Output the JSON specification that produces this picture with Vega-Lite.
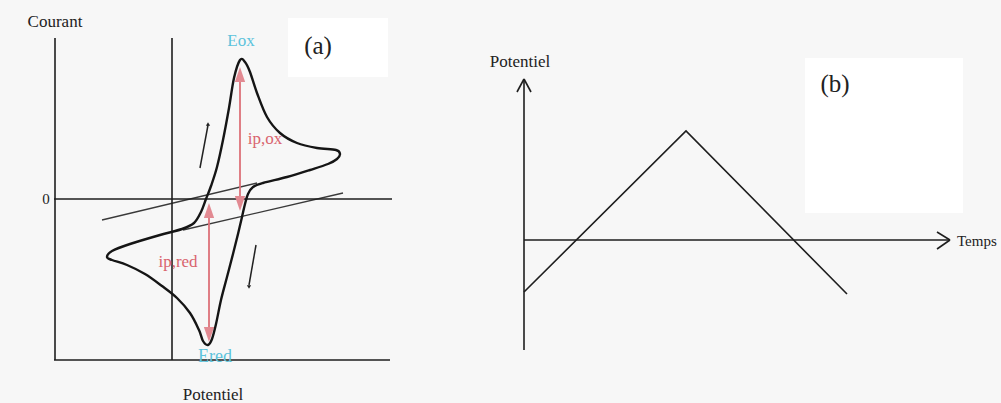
{
  "$schema": "https://vega.github.io/schema/vega-lite/v6.json",
  "width": 1001,
  "height": 403,
  "padding": 0,
  "autosize": {"type": "fit", "contains": "padding"},
  "background": "#f7f7f7",
  "config": {"view": {"stroke": null}},
  "datasets": {
    "boxes": [
      {"x": 288, "y": 18, "x2": 388, "y2": 77},
      {"x": 805, "y": 58, "x2": 963, "y2": 213}
    ],
    "axes": [
      {"x": 55, "y": 38, "x2": 55, "y2": 360},
      {"x": 54, "y": 360, "x2": 390, "y2": 360},
      {"x": 172, "y": 38, "x2": 172, "y2": 360},
      {"x": 54, "y": 199, "x2": 392, "y2": 199},
      {"x": 524, "y": 79, "x2": 524, "y2": 350},
      {"x": 524, "y": 240, "x2": 950, "y2": 240},
      {"x": 517, "y": 92, "x2": 524, "y2": 79},
      {"x": 531, "y": 92, "x2": 524, "y2": 79},
      {"x": 937, "y": 232, "x2": 950, "y2": 240},
      {"x": 937, "y": 249, "x2": 950, "y2": 240}
    ],
    "baselines": [
      {"x": 102, "y": 220, "x2": 257, "y2": 183},
      {"x": 183, "y": 230, "x2": 343, "y2": 193}
    ],
    "cv": [
      {"i": 0, "x": 107, "y": 257},
      {"i": 1, "x": 112, "y": 251},
      {"i": 2, "x": 130, "y": 244},
      {"i": 3, "x": 160, "y": 235},
      {"i": 4, "x": 182, "y": 229},
      {"i": 5, "x": 194, "y": 223},
      {"i": 6, "x": 201, "y": 212},
      {"i": 7, "x": 206, "y": 199},
      {"i": 8, "x": 211, "y": 186},
      {"i": 9, "x": 217, "y": 167},
      {"i": 10, "x": 223, "y": 140},
      {"i": 11, "x": 229, "y": 108},
      {"i": 12, "x": 234, "y": 78},
      {"i": 13, "x": 240, "y": 60},
      {"i": 14, "x": 245, "y": 62},
      {"i": 15, "x": 250, "y": 72},
      {"i": 16, "x": 257, "y": 93},
      {"i": 17, "x": 267, "y": 117},
      {"i": 18, "x": 280, "y": 133},
      {"i": 19, "x": 297, "y": 143},
      {"i": 20, "x": 317, "y": 148},
      {"i": 21, "x": 336, "y": 150},
      {"i": 22, "x": 340, "y": 154},
      {"i": 23, "x": 337, "y": 159},
      {"i": 24, "x": 328, "y": 164},
      {"i": 25, "x": 310, "y": 170},
      {"i": 26, "x": 287, "y": 177},
      {"i": 27, "x": 263, "y": 183},
      {"i": 28, "x": 253, "y": 187},
      {"i": 29, "x": 248, "y": 194},
      {"i": 30, "x": 245, "y": 204},
      {"i": 31, "x": 242, "y": 217},
      {"i": 32, "x": 238, "y": 234},
      {"i": 33, "x": 233, "y": 254},
      {"i": 34, "x": 227, "y": 277},
      {"i": 35, "x": 221, "y": 300},
      {"i": 36, "x": 216, "y": 324},
      {"i": 37, "x": 212, "y": 339},
      {"i": 38, "x": 208, "y": 345},
      {"i": 39, "x": 203, "y": 341},
      {"i": 40, "x": 199, "y": 330},
      {"i": 41, "x": 190, "y": 313},
      {"i": 42, "x": 177, "y": 298},
      {"i": 43, "x": 162, "y": 286},
      {"i": 44, "x": 145, "y": 274},
      {"i": 45, "x": 127, "y": 265},
      {"i": 46, "x": 112, "y": 260}
    ],
    "tri": [
      {"i": 0, "x": 524, "y": 292},
      {"i": 1, "x": 686, "y": 131},
      {"i": 2, "x": 847, "y": 294}
    ],
    "red": [
      {"x": 240, "y": 75, "x2": 240, "y2": 203},
      {"x": 209, "y": 212, "x2": 209, "y2": 333}
    ],
    "redUp": [
      {"x": 240, "y": 67},
      {"x": 209, "y": 203}
    ],
    "redDown": [
      {"x": 240, "y": 211},
      {"x": 209, "y": 342}
    ],
    "small": [
      {"x": 200, "y": 168, "x2": 208, "y2": 125},
      {"x": 256, "y": 245, "x2": 249, "y2": 285}
    ],
    "smallUp": [{"x": 208, "y": 124}],
    "smallDown": [{"x": 249, "y": 287}],
    "labels": [
      {"x": 55, "y": 22, "t": "Courant", "s": "k", "z": 17},
      {"x": 46, "y": 199, "t": "0", "s": "k", "z": 15},
      {"x": 213, "y": 395, "t": "Potentiel", "s": "k", "z": 17},
      {"x": 318, "y": 46, "t": "(a)", "s": "k", "z": 25},
      {"x": 835, "y": 84, "t": "(b)", "s": "k", "z": 25},
      {"x": 520, "y": 62, "t": "Potentiel", "s": "k", "z": 17},
      {"x": 241, "y": 41, "t": "Eox", "s": "c", "z": 17},
      {"x": 215, "y": 357, "t": "Ered", "s": "c", "z": 18},
      {"x": 265, "y": 139, "t": "ip,ox", "s": "r", "z": 17},
      {"x": 178, "y": 262, "t": "ip,red", "s": "r", "z": 17}
    ]
  },
  "layer": [
    {
      "data": {"name": "boxes"},
      "mark": {"type": "rect", "fill": "#ffffff"},
      "encoding": {
        "x": {"field": "x", "type": "quantitative", "scale": {"domain": [0, 1001], "nice": false, "zero": false}, "axis": null},
        "x2": {"field": "x2"},
        "y": {"field": "y", "type": "quantitative", "scale": {"domain": [0, 403], "nice": false, "zero": false, "reverse": true}, "axis": null},
        "y2": {"field": "y2"}
      }
    },
    {
      "data": {"name": "baselines"},
      "mark": {"type": "rule", "color": "#3a3a3a", "strokeWidth": 1.3},
      "encoding": {
        "x": {"field": "x", "type": "quantitative", "scale": {"domain": [0, 1001], "nice": false, "zero": false}, "axis": null},
        "x2": {"field": "x2"},
        "y": {"field": "y", "type": "quantitative", "scale": {"domain": [0, 403], "nice": false, "zero": false, "reverse": true}, "axis": null},
        "y2": {"field": "y2"}
      }
    },
    {
      "data": {"name": "axes"},
      "mark": {"type": "rule", "color": "#1e1e1e", "strokeWidth": 1.6},
      "encoding": {
        "x": {"field": "x", "type": "quantitative", "scale": {"domain": [0, 1001], "nice": false, "zero": false}, "axis": null},
        "x2": {"field": "x2"},
        "y": {"field": "y", "type": "quantitative", "scale": {"domain": [0, 403], "nice": false, "zero": false, "reverse": true}, "axis": null},
        "y2": {"field": "y2"}
      }
    },
    {
      "data": {"name": "tri"},
      "mark": {"type": "line", "color": "#1e1e1e", "strokeWidth": 1.6},
      "encoding": {
        "x": {"field": "x", "type": "quantitative", "scale": {"domain": [0, 1001], "nice": false, "zero": false}, "axis": null},
        "y": {"field": "y", "type": "quantitative", "scale": {"domain": [0, 403], "nice": false, "zero": false, "reverse": true}, "axis": null},
        "order": {"field": "i"}
      }
    },
    {
      "data": {"name": "red"},
      "mark": {"type": "rule", "color": "#dc7078", "strokeWidth": 1.8},
      "encoding": {
        "x": {"field": "x", "type": "quantitative", "scale": {"domain": [0, 1001], "nice": false, "zero": false}, "axis": null},
        "x2": {"field": "x2"},
        "y": {"field": "y", "type": "quantitative", "scale": {"domain": [0, 403], "nice": false, "zero": false, "reverse": true}, "axis": null},
        "y2": {"field": "y2"}
      }
    },
    {
      "data": {"name": "redUp"},
      "mark": {"type": "point", "shape": "M0,0L-0.65,1.9L0.65,1.9Z", "filled": true, "color": "#e28a92", "opacity": 1, "size": 250},
      "encoding": {
        "x": {"field": "x", "type": "quantitative", "scale": {"domain": [0, 1001], "nice": false, "zero": false}, "axis": null},
        "y": {"field": "y", "type": "quantitative", "scale": {"domain": [0, 403], "nice": false, "zero": false, "reverse": true}, "axis": null}
      }
    },
    {
      "data": {"name": "redDown"},
      "mark": {"type": "point", "shape": "M0,0L-0.65,-1.9L0.65,-1.9Z", "filled": true, "color": "#e28a92", "opacity": 1, "size": 250},
      "encoding": {
        "x": {"field": "x", "type": "quantitative", "scale": {"domain": [0, 1001], "nice": false, "zero": false}, "axis": null},
        "y": {"field": "y", "type": "quantitative", "scale": {"domain": [0, 403], "nice": false, "zero": false, "reverse": true}, "axis": null}
      }
    },
    {
      "data": {"name": "cv"},
      "mark": {"type": "line", "color": "#151515", "strokeWidth": 2.4, "interpolate": "cardinal-closed"},
      "encoding": {
        "x": {"field": "x", "type": "quantitative", "scale": {"domain": [0, 1001], "nice": false, "zero": false}, "axis": null},
        "y": {"field": "y", "type": "quantitative", "scale": {"domain": [0, 403], "nice": false, "zero": false, "reverse": true}, "axis": null},
        "order": {"field": "i"}
      }
    },
    {
      "data": {"name": "small"},
      "mark": {"type": "rule", "color": "#222222", "strokeWidth": 1.5},
      "encoding": {
        "x": {"field": "x", "type": "quantitative", "scale": {"domain": [0, 1001], "nice": false, "zero": false}, "axis": null},
        "x2": {"field": "x2"},
        "y": {"field": "y", "type": "quantitative", "scale": {"domain": [0, 403], "nice": false, "zero": false, "reverse": true}, "axis": null},
        "y2": {"field": "y2"}
      }
    },
    {
      "data": {"name": "smallUp"},
      "mark": {"type": "point", "shape": "triangle-up", "filled": true, "color": "#222222", "opacity": 1, "size": 18},
      "encoding": {
        "x": {"field": "x", "type": "quantitative", "scale": {"domain": [0, 1001], "nice": false, "zero": false}, "axis": null},
        "y": {"field": "y", "type": "quantitative", "scale": {"domain": [0, 403], "nice": false, "zero": false, "reverse": true}, "axis": null}
      }
    },
    {
      "data": {"name": "smallDown"},
      "mark": {"type": "point", "shape": "triangle-down", "filled": true, "color": "#222222", "opacity": 1, "size": 18},
      "encoding": {
        "x": {"field": "x", "type": "quantitative", "scale": {"domain": [0, 1001], "nice": false, "zero": false}, "axis": null},
        "y": {"field": "y", "type": "quantitative", "scale": {"domain": [0, 403], "nice": false, "zero": false, "reverse": true}, "axis": null}
      }
    },
    {
      "data": {"name": "labels"},
      "mark": {"type": "text", "font": "Liberation Serif", "align": "center", "baseline": "middle"},
      "encoding": {
        "x": {"field": "x", "type": "quantitative", "scale": {"domain": [0, 1001], "nice": false, "zero": false}, "axis": null},
        "y": {"field": "y", "type": "quantitative", "scale": {"domain": [0, 403], "nice": false, "zero": false, "reverse": true}, "axis": null},
        "text": {"field": "t"},
        "size": {"field": "z", "type": "quantitative", "scale": {"type": "linear", "domain": [0, 40], "range": [0, 40], "zero": true, "nice": false}, "legend": null},
        "color": {"field": "s", "type": "nominal", "scale": {"domain": ["k", "c", "r"], "range": ["#222222", "#5cc3dc", "#d9646e"]}, "legend": null}
      }
    },
    {
      "data": {"values": [{"x": 957, "y": 241, "t": "Temps"}]},
      "mark": {"type": "text", "font": "Liberation Serif", "align": "left", "baseline": "middle", "fontSize": 15, "color": "#222222"},
      "encoding": {
        "x": {"field": "x", "type": "quantitative", "scale": {"domain": [0, 1001], "nice": false, "zero": false}, "axis": null},
        "y": {"field": "y", "type": "quantitative", "scale": {"domain": [0, 403], "nice": false, "zero": false, "reverse": true}, "axis": null},
        "text": {"field": "t"}
      }
    }
  ]
}
